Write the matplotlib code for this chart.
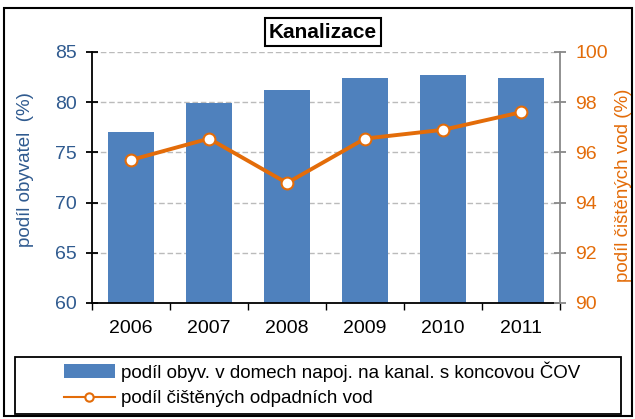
import matplotlib
matplotlib.use('Agg')
import matplotlib.pyplot as plt
import numpy as np
from matplotlib.patches import Rectangle

plt.rcParams['font.family'] = ['Liberation Sans', 'DejaVu Sans']

years = ['2006', '2007', '2008', '2009', '2010', '2011']
obyv = [77.0, 79.9, 81.2, 82.4, 82.7, 82.4]
cistene = [95.7, 96.55, 94.78, 96.55, 96.9, 97.6]

blue = '#4F81BD'
dark_blue = '#2F5A8F'
orange = '#E36C09'

W, H = 635, 419
fig = plt.figure(figsize=(W / 100, H / 100), dpi=100)
ax = fig.add_axes([92 / W, 1 - 303 / H, 468 / W, 251 / H])
ax2 = ax.twinx()

x = np.arange(len(years))
ax.bar(x, obyv, width=0.6, color=blue, zorder=2,
       label='podíl obyv. v domech napoj. na kanal. s koncovou ČOV')
ax.set_ylim(60, 85)
ax.set_xlim(-0.5, len(years) - 0.5)
ax.set_yticks([60, 65, 70, 75, 80, 85])
ax.yaxis.grid(True, color='#BBBBBB', linestyle=(0, (4, 2)), linewidth=1, zorder=0)
ax.set_axisbelow(True)
ax.set_xticks(x)
ax.set_xticklabels(years, fontsize=14)
ax.set_xticks(np.arange(-0.5, len(years)), minor=True)
ax.tick_params(axis='x', which='major', length=0, pad=12)
ax.tick_params(axis='x', which='minor', length=5, direction='out', width=1)
ax.tick_params(axis='y', labelsize=14, labelcolor=dark_blue, direction='inout', length=8, width=1.3, pad=7)
ax.set_ylabel('podíl obyvatel  (%)', fontsize=13.5, color=dark_blue)
ax.yaxis.set_label_coords(-0.124, 0.53)
ax.spines['top'].set_visible(False)
ax.spines['right'].set_visible(False)
ax.spines['left'].set_linewidth(1.3)
ax.spines['bottom'].set_linewidth(1.3)

# treated wastewater share on the secondary axis
ax2.plot(x, cistene, color=orange, linewidth=2.8, marker='o', markersize=8.5,
         markerfacecolor='white', markeredgecolor=orange, markeredgewidth=1.5,
         zorder=3, label='podíl čištěných odpadních vod')
ax2.set_ylim(90, 100)
ax2.set_yticks([90, 92, 94, 96, 98, 100])
ax2.tick_params(axis='y', labelsize=14, labelcolor=orange, color='#888888', direction='inout', length=8, width=1.3, pad=7)
ax2.set_ylabel('podíl čištěných vod (%)', fontsize=13.5, color=orange)
ax2.yaxis.set_label_coords(1.117, 0.47)
for s in ['top', 'left', 'bottom']:
    ax2.spines[s].set_visible(False)
ax2.spines['right'].set_color('#888888')
ax2.spines['right'].set_linewidth(1.3)

ax.set_zorder(1)
ax2.set_zorder(2)
ax2.patch.set_visible(False)

fig.text(323 / W, 1 - 32 / H, 'Kanalizace', fontsize=15, fontweight='bold', ha='center', va='center',
         bbox=dict(boxstyle='square,pad=0.2', facecolor='white', edgecolor='black', linewidth=1.5))

# legend with small line handle, frame drawn separately
h1, l1 = ax.get_legend_handles_labels()
h2, l2 = ax2.get_legend_handles_labels()
leg = fig.legend(h1 + h2, l1 + l2, loc='upper left', bbox_to_anchor=(64 / W, 1 - 361 / H),
                 fontsize=13.5, frameon=False, handlelength=2.7, borderpad=0, borderaxespad=0,
                 labelspacing=0.45, handletextpad=0.35)
leg.legend_handles[1].set_linewidth(1.5)
leg.legend_handles[1].set_markersize(6)

fig.patches.append(Rectangle((15 / W, 1 - 414 / H), 606 / W, 57 / H, transform=fig.transFigure,
                             fill=False, edgecolor='black', linewidth=1.3))
fig.patches.append(Rectangle((4 / W, 3 / H), 628 / W, 408 / H, transform=fig.transFigure,
                             fill=False, edgecolor='black', linewidth=1.5))

fig.savefig('out.png', dpi=100)
